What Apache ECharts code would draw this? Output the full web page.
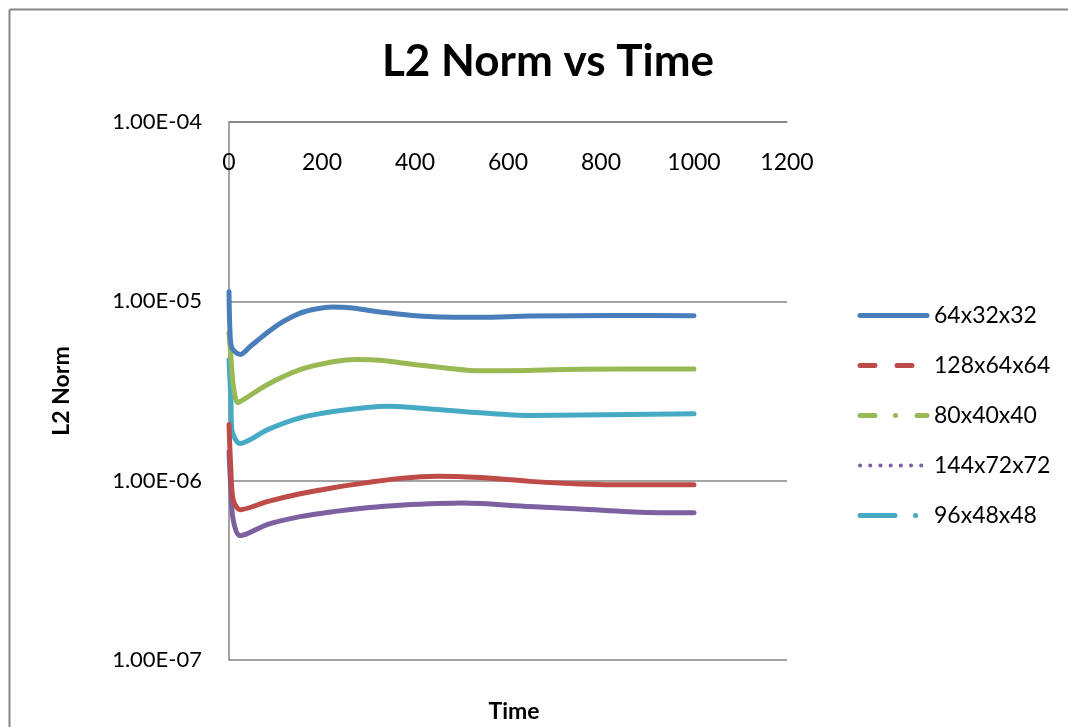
<!DOCTYPE html>
<html>
<head>
<meta charset="utf-8">
<script src="https://cdn.jsdelivr.net/npm/echarts@6/dist/echarts.min.js"></script>
<style>
html,body{margin:0;padding:0;background:#fff;overflow:hidden;}
#c{width:1068px;height:727px;}
</style>
</head>
<body>
<div id="c"></div>
<script>
// ---- data ----
const seriesNames = ['64x32x32', '128x64x64', '80x40x40', '144x72x72', '96x48x48'];
const seriesColors = ['#4a7ebb', '#be4b48', '#98b954', '#7d60a0', '#46aac5'];

const t64 = [0, 2, 6, 24, 45, 82, 116, 153, 189, 222, 260, 325, 417, 540, 647, 826, 1000];
const v64 = [1.13e-5, 6.95e-6, 5.52e-6, 5.05e-6, 5.58e-6, 6.68e-6, 7.7e-6, 8.6e-6, 9.1e-6, 9.3e-6, 9.22e-6, 8.73e-6, 8.25e-6, 8.14e-6, 8.28e-6, 8.33e-6, 8.32e-6];

const t128 = [0, 4, 9, 24, 82, 153, 224, 297, 368, 447, 540, 647, 755, 826, 1000];
const v128 = [2.05e-6, 1.15e-6, 7.83e-7, 6.89e-7, 7.64e-7, 8.46e-7, 9.14e-7, 9.75e-7, 1.03e-6, 1.06e-6, 1.04e-6, 9.91e-7, 9.59e-7, 9.5e-7, 9.5e-7];

const t80 = [0, 4, 9, 19, 34, 82, 153, 224, 275, 325, 368, 432, 540, 647, 755, 1000];
const v80 = [6.68e-6, 4.92e-6, 3.43e-6, 2.72e-6, 2.86e-6, 3.43e-6, 4.16e-6, 4.6e-6, 4.74e-6, 4.7e-6, 4.55e-6, 4.35e-6, 4.1e-6, 4.12e-6, 4.18e-6, 4.2e-6];

const t144 = [0, 4, 9, 24, 82, 153, 224, 297, 368, 503, 647, 755, 899, 1000];
const v144 = [1.45e-6, 8.9e-7, 6.05e-7, 4.93e-7, 5.69e-7, 6.3e-7, 6.72e-7, 7.07e-7, 7.3e-7, 7.5e-7, 7.17e-7, 6.95e-7, 6.65e-7, 6.63e-7];

const t96 = [0, 4, 6, 24, 45, 82, 153, 224, 297, 346, 432, 540, 647, 755, 1000];
const v96 = [4.73e-6, 2.83e-6, 1.92e-6, 1.61e-6, 1.69e-6, 1.92e-6, 2.24e-6, 2.43e-6, 2.56e-6, 2.6e-6, 2.51e-6, 2.39e-6, 2.31e-6, 2.32e-6, 2.36e-6];

const xTickLabels = ['0', '200', '400', '600', '800', '1000', '1200'];
const yTickValues = [1e-7, 1e-6, 1e-5, 1e-4];
const yTickLabels = ['1.00E-07', '1.00E-06', '1.00E-05', '1.00E-04'];

// ---- chart ----
const tArrays = [t64, t128, t80, t144, t96];
const vArrays = [v64, v128, v80, v144, v96];
const legendDash = [
  'solid',
  [15, 22],
  [15, 20.5, 0.1, 21.4],
  [0.1, 10.1],
  [35, 20.5, 0.1, 30]
];
const FONT = 'Lato';
const GRAY = '#868686';

const chart = echarts.init(document.getElementById('c'), null, {renderer: 'canvas'});

const series = seriesNames.map((n, i) => ({
  name: n,
  type: 'line',
  data: tArrays[i].map((t, j) => [t, vArrays[i][j]]),
  symbol: 'none',
  smooth: 0.3,
  lineStyle: {color: seriesColors[i], width: 5, cap: 'round', join: 'round'},
  itemStyle: {color: seriesColors[i]},
  z: 10 - i
}));

chart.setOption({
  animation: false,
  backgroundColor: '#fff',
  title: [
    {text: 'L2 Norm vs Time', left: 543, top: 35, textAlign: 'center',
     textStyle: {fontFamily: FONT, fontSize: 44, fontWeight: 'bold', color: '#000'}},
    {text: 'Time', left: 509, top: 695, textAlign: 'center',
     textStyle: {fontFamily: FONT, fontSize: 23, fontWeight: 'bold', color: '#000'}}
  ],
  graphic: [
    {type: 'line', silent: true, shape: {x1: 9.5, y1: 9.5, x2: 1068, y2: 9.5},
     style: {stroke: GRAY, lineWidth: 2}},
    {type: 'line', silent: true, shape: {x1: 9.5, y1: 9.5, x2: 9.5, y2: 727},
     style: {stroke: GRAY, lineWidth: 2}}
  ],
  grid: {left: 229, top: 122, width: 558, height: 538, containLabel: false},
  legend: {
    orient: 'vertical',
    left: 857.5, top: 304, padding: 0,
    itemWidth: 67, itemHeight: 14, itemGap: 27,
    textStyle: {fontFamily: FONT, fontSize: 23, color: '#000', lineHeight: 22, padding: [0, 0, 0, 2]},
    data: seriesNames.map((n, i) => ({
      name: n,
      itemStyle: {opacity: 0},
      lineStyle: {color: seriesColors[i], width: i === 3 ? 4 : 5, type: legendDash[i], cap: 'round', opacity: 1}
    }))
  },
  xAxis: {
    type: 'value', position: 'top', min: 0, max: 1200, interval: 200,
    axisLine: {show: true, onZero: false, lineStyle: {color: GRAY, width: 1.5}},
    axisTick: {show: false},
    splitLine: {show: false},
    axisLabel: {inside: true, margin: 29, fontFamily: FONT, fontSize: 23, color: '#000',
      formatter: v => xTickLabels[Math.round(v / 200)]}
  },
  yAxis: {
    type: 'log', logBase: 10, min: 1e-7, max: 1e-4,
    name: 'L2 Norm', nameLocation: 'middle', nameGap: 156, nameRotate: 90,
    nameTextStyle: {fontFamily: FONT, fontSize: 23, fontWeight: 'bold', color: '#000'},
    axisLine: {show: true, lineStyle: {color: GRAY, width: 1.5}},
    axisTick: {show: false},
    splitLine: {show: true, lineStyle: {color: GRAY, width: 1.5}},
    axisLabel: {margin: 27, fontFamily: FONT, fontSize: 22, color: '#000',
      formatter: v => {
        let best = 0;
        yTickValues.forEach((tv, k) => { if (Math.abs(Math.log10(tv) - Math.log10(v)) < 0.01) best = k; });
        return yTickLabels[best];
      }}
  },
  series: series
});
</script>
</body>
</html>
